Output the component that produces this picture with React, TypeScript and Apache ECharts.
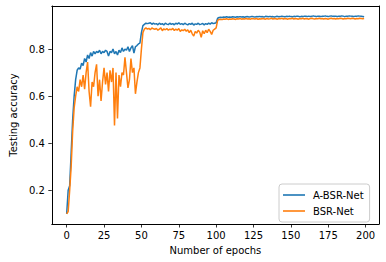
import React, { useEffect, useRef } from "react";
import * as echarts from "echarts";

const seriesNames = ["A-BSR-Net", "BSR-Net"];
const xTicks = [0, 25, 50, 75, 100, 125, 150, 175, 200];
const yTicks = [0.2, 0.4, 0.6, 0.8];

const aBsrNet = [
  0.10, 0.20, 0.22, 0.36, 0.50, 0.60, 0.67, 0.71, 0.72, 0.715,
  0.74, 0.73, 0.76, 0.745, 0.775, 0.76, 0.785, 0.77, 0.79, 0.78,
  0.79, 0.785, 0.795, 0.78, 0.79, 0.785, 0.795, 0.79, 0.77, 0.79,
  0.785, 0.80, 0.78, 0.79, 0.775, 0.795, 0.785, 0.805, 0.79, 0.80,
  0.795, 0.81, 0.79, 0.805, 0.815, 0.783, 0.81, 0.815, 0.822, 0.825,
  0.87, 0.90, 0.905, 0.91, 0.908, 0.91, 0.912, 0.905, 0.91, 0.906,
  0.908, 0.903, 0.91, 0.905, 0.908, 0.902, 0.91, 0.906, 0.904, 0.91,
  0.905, 0.908, 0.903, 0.91, 0.906, 0.912, 0.905, 0.908, 0.904, 0.91,
  0.906, 0.903, 0.908, 0.905, 0.91, 0.902, 0.907, 0.905, 0.91, 0.904,
  0.906, 0.909, 0.903, 0.908, 0.905, 0.91, 0.906, 0.912, 0.908, 0.91,
  0.912, 0.931, 0.934, 0.935, 0.934, 0.936, 0.935, 0.937, 0.935, 0.936,
  0.935, 0.937, 0.936, 0.935, 0.937, 0.936, 0.938, 0.936, 0.937, 0.935,
  0.937, 0.938, 0.936, 0.937, 0.939, 0.937, 0.936, 0.938, 0.937, 0.939,
  0.937, 0.938, 0.936, 0.939, 0.938, 0.937, 0.939, 0.937, 0.938, 0.936,
  0.938, 0.939, 0.937, 0.938, 0.940, 0.938, 0.937, 0.939, 0.938, 0.940,
  0.938, 0.937, 0.939, 0.938, 0.940, 0.939, 0.937, 0.939, 0.938, 0.940,
  0.939, 0.938, 0.940, 0.938, 0.939, 0.941, 0.939, 0.938, 0.940, 0.939,
  0.938, 0.940, 0.939, 0.941, 0.939, 0.938, 0.940, 0.941, 0.939, 0.940,
  0.939, 0.938, 0.940, 0.939, 0.941, 0.940, 0.938, 0.940, 0.939, 0.941,
  0.940, 0.939, 0.938, 0.940, 0.939, 0.941, 0.940, 0.939, 0.938, 0.937,
];

const bsrNet = [
  0.10, 0.11, 0.20, 0.30, 0.45, 0.55, 0.60, 0.64, 0.62, 0.67,
  0.64, 0.69, 0.63, 0.70, 0.745, 0.62, 0.555, 0.66, 0.64, 0.70,
  0.735, 0.60, 0.67, 0.58, 0.66, 0.72, 0.65, 0.70, 0.62, 0.71,
  0.66, 0.72, 0.475, 0.70, 0.505, 0.69, 0.64, 0.70, 0.69, 0.765,
  0.70, 0.635, 0.67, 0.76, 0.70, 0.72, 0.61, 0.66, 0.70, 0.72,
  0.80, 0.87, 0.885, 0.89, 0.885, 0.888, 0.882, 0.89, 0.886, 0.884,
  0.888, 0.88, 0.885, 0.89, 0.878, 0.886, 0.882, 0.887, 0.88, 0.885,
  0.882, 0.888, 0.879, 0.885, 0.88, 0.887, 0.875, 0.882, 0.878, 0.884,
  0.876, 0.882, 0.87, 0.88, 0.865, 0.855, 0.875, 0.868, 0.88, 0.872,
  0.85, 0.878, 0.865, 0.88, 0.87, 0.884, 0.875, 0.862, 0.88, 0.885,
  0.890, 0.922, 0.926, 0.927, 0.925, 0.928, 0.927, 0.929, 0.926, 0.928,
  0.927, 0.929, 0.928, 0.926, 0.929, 0.928, 0.930, 0.927, 0.929, 0.928,
  0.930, 0.928, 0.929, 0.927, 0.930, 0.929, 0.928, 0.930, 0.926, 0.929,
  0.928, 0.930, 0.929, 0.927, 0.930, 0.928, 0.929, 0.931, 0.928, 0.930,
  0.929, 0.927, 0.930, 0.929, 0.931, 0.928, 0.930, 0.929, 0.927, 0.930,
  0.929, 0.931, 0.928, 0.930, 0.929, 0.927, 0.930, 0.929, 0.931, 0.928,
  0.930, 0.929, 0.927, 0.930, 0.931, 0.929, 0.928, 0.930, 0.929, 0.931,
  0.929, 0.930, 0.928, 0.930, 0.929, 0.927, 0.930, 0.931, 0.929, 0.930,
  0.928, 0.930, 0.929, 0.931, 0.930, 0.928, 0.930, 0.929, 0.931, 0.930,
  0.929, 0.931, 0.930, 0.928, 0.930, 0.929, 0.931, 0.930, 0.929, 0.930,
];

const FONT = "DejaVu Sans";
const X_MIN = -9.95;
const X_MAX = 208.95;
const Y_MIN = 0.057;
const Y_MAX = 0.983;

export default function App() {
  const ref = useRef<HTMLDivElement>(null);
  useEffect(() => {
    if (!ref.current) return;
    const chart = echarts.init(ref.current, null, { renderer: "svg" });
    const line = { show: true, onZero: false, lineStyle: { color: "#000", width: 1 } };
    const tick = { show: true, inside: false, length: 3.5, lineStyle: { color: "#000", width: 0.8 } };
    const label = { fontFamily: FONT, fontSize: 10, color: "#000" };
    chart.setOption({
      animation: false,
      backgroundColor: "#fff",
      grid: { left: 44, top: 6, width: 335, height: 218, containLabel: false },
      xAxis: [
        {
          type: "value",
          min: X_MIN,
          max: X_MAX,
          position: "bottom",
          name: "Number of epochs",
          nameLocation: "middle",
          nameGap: 21,
          nameTextStyle: { ...label, verticalAlign: "top" },
          axisLine: line,
          splitLine: { show: false },
          axisTick: { ...tick, customValues: xTicks },
          axisLabel: { ...label, customValues: xTicks, margin: 6 },
        },
        {
          type: "value",
          min: X_MIN,
          max: X_MAX,
          position: "top",
          axisLine: line,
          splitLine: { show: false },
          axisTick: { show: false },
          axisLabel: { show: false },
        },
      ],
      yAxis: [
        {
          type: "value",
          min: Y_MIN,
          max: Y_MAX,
          position: "left",
          name: "Testing accuracy",
          nameLocation: "middle",
          nameGap: 27,
          nameTextStyle: label,
          axisLine: line,
          splitLine: { show: false },
          axisTick: { ...tick, customValues: yTicks },
          axisLabel: {
            ...label,
            customValues: yTicks,
            margin: 7,
            formatter: (v: number) => v.toFixed(1),
          },
        },
        {
          type: "value",
          min: Y_MIN,
          max: Y_MAX,
          position: "right",
          axisLine: line,
          splitLine: { show: false },
          axisTick: { show: false },
          axisLabel: { show: false },
        },
      ],
      legend: {
        orient: "vertical",
        left: 279,
        top: 184,
        padding: [5, 6, 5, 4],
        icon: "rect",
        itemWidth: 22,
        itemHeight: 1.6,
        itemGap: 4,
        backgroundColor: "rgba(255,255,255,0.8)",
        borderColor: "#cccccc",
        borderWidth: 1,
        borderRadius: 3,
        textStyle: { ...label, padding: [0, 0, 0, 3], lineHeight: 12 },
        data: seriesNames,
      },
      series: [
        {
          name: seriesNames[0],
          type: "line",
          symbol: "none",
          data: aBsrNet.map((v, i) => [i, v]),
          lineStyle: { color: "#1f77b4", width: 1.5 },
          itemStyle: { color: "#1f77b4" },
        },
        {
          name: seriesNames[1],
          type: "line",
          symbol: "none",
          data: bsrNet.map((v, i) => [i, v]),
          lineStyle: { color: "#ff7f0e", width: 1.5 },
          itemStyle: { color: "#ff7f0e" },
        },
      ],
    });
    return () => chart.dispose();
  }, []);
  return (
    <div
      ref={ref}
      style={{ position: "fixed", left: 0, top: 0, width: 386, height: 262 }}
    />
  );
}
